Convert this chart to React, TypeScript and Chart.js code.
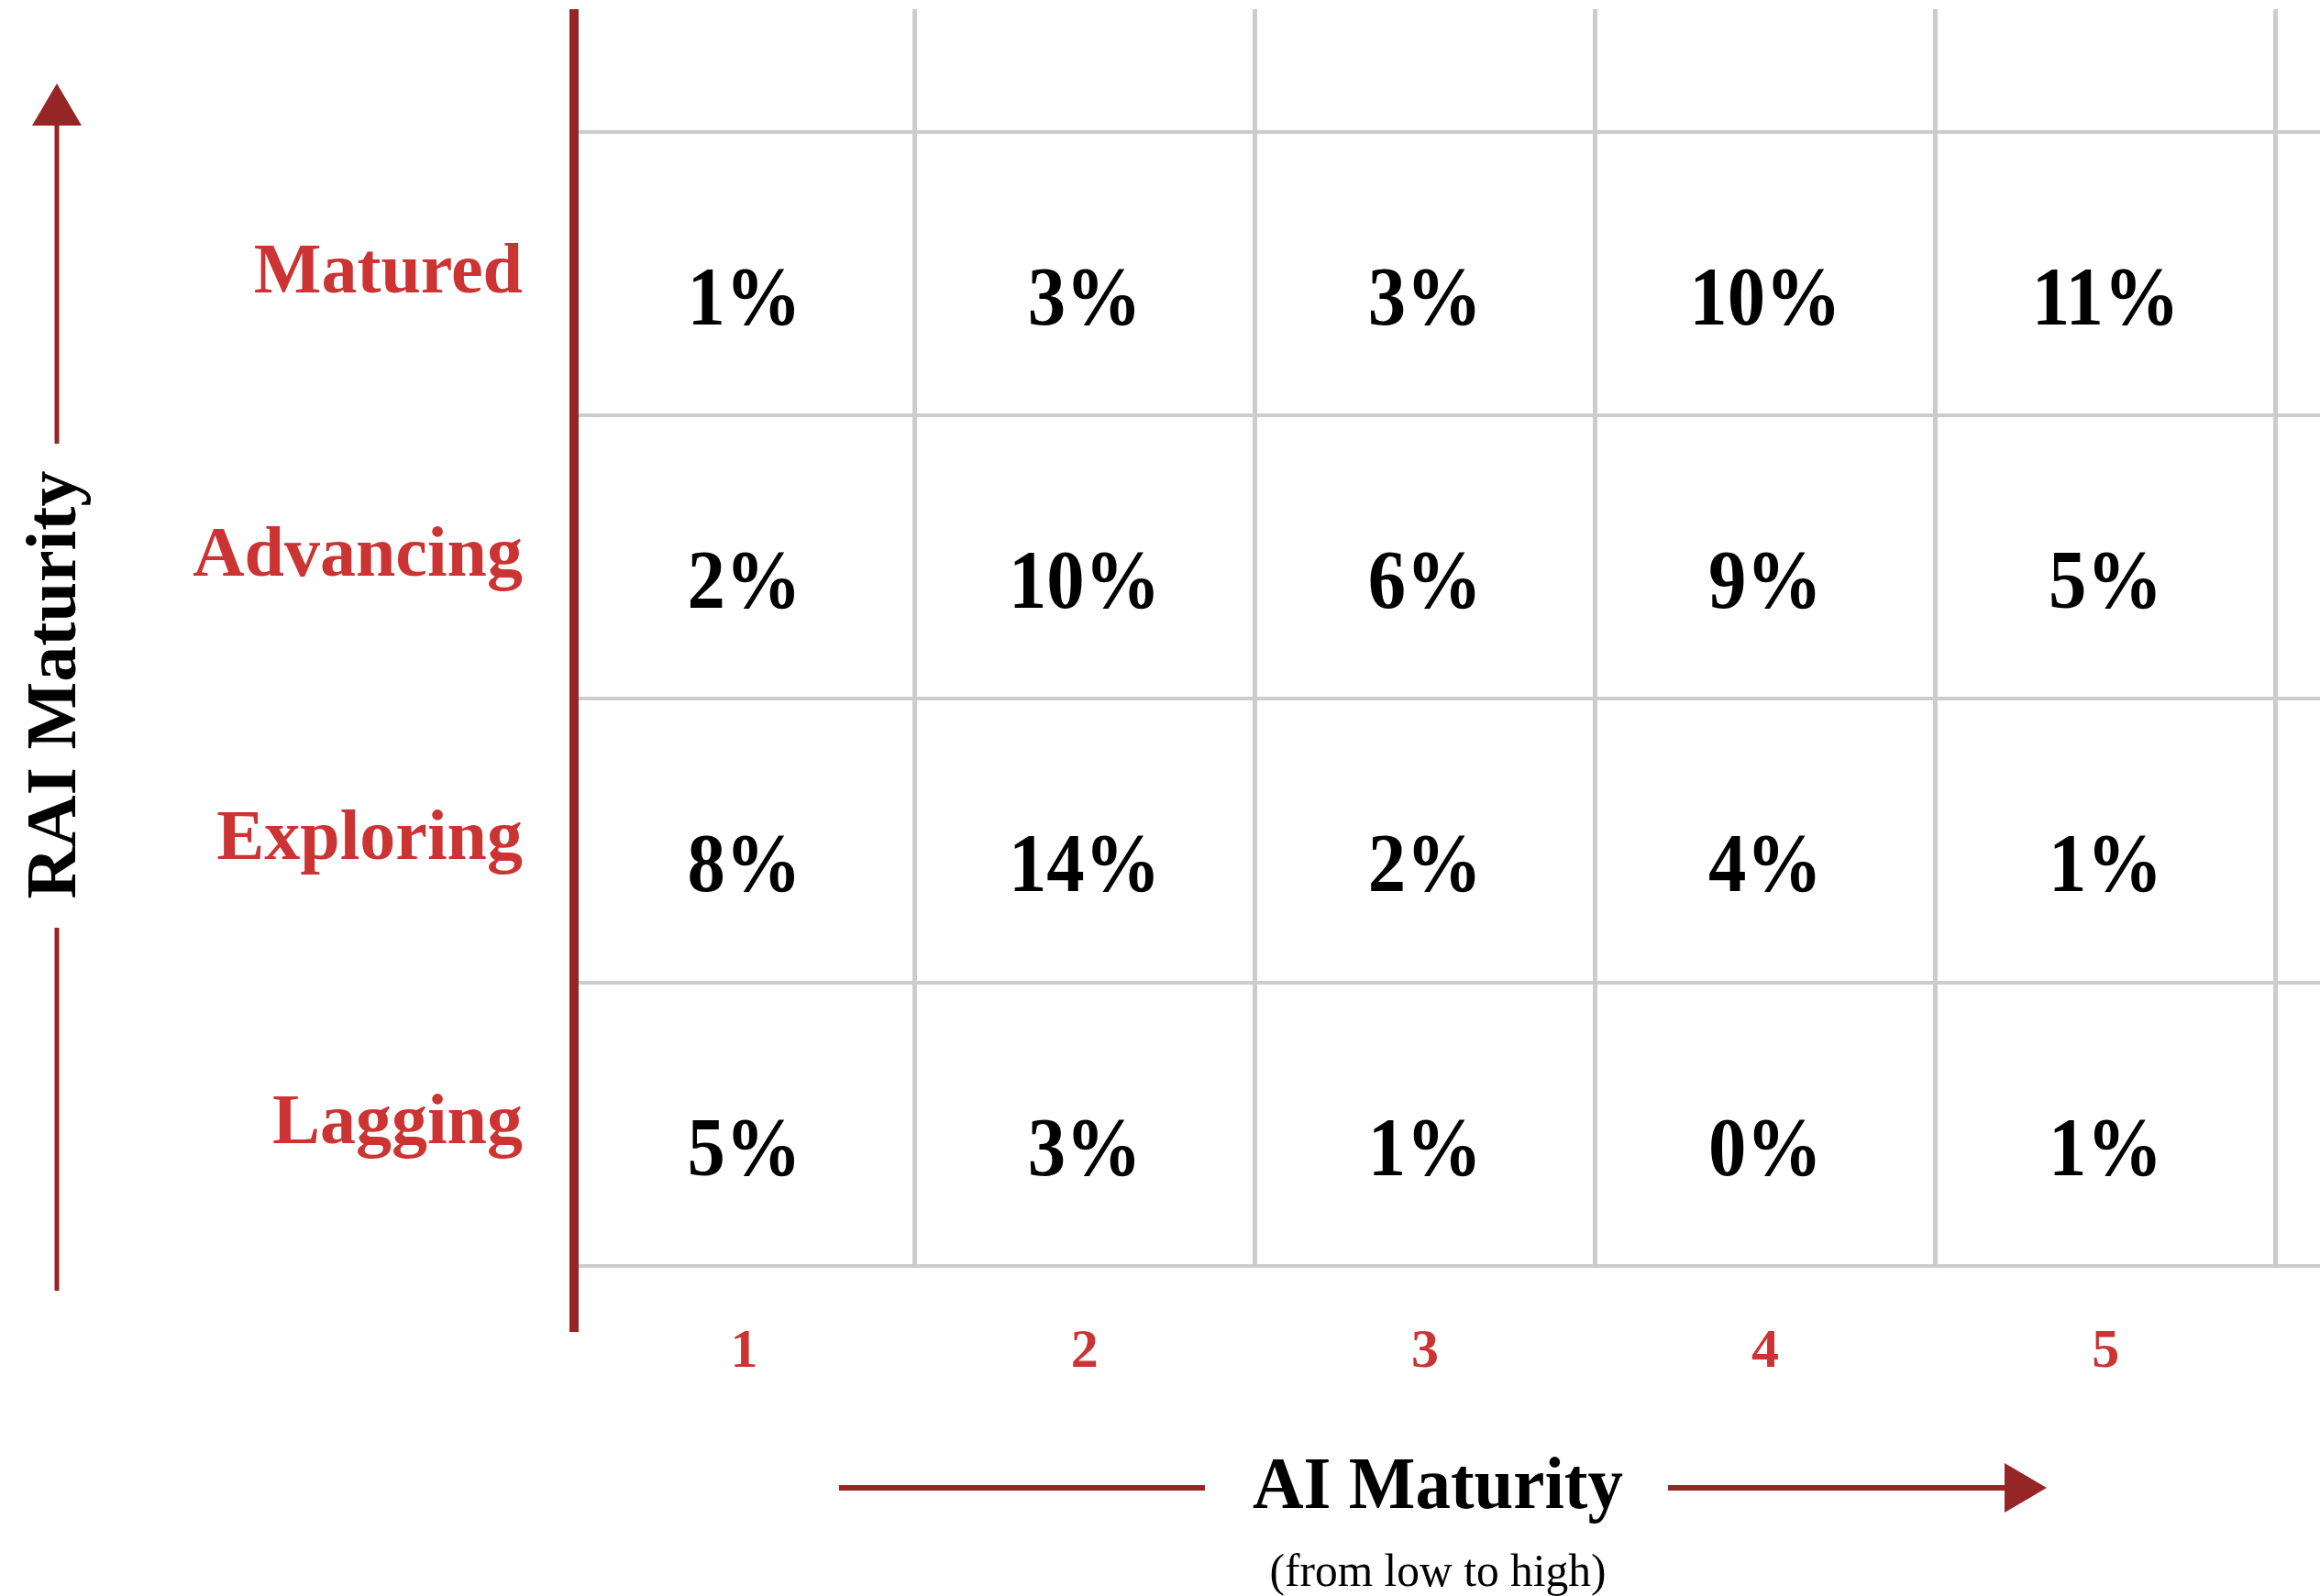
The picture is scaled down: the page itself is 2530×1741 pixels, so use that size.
import React, { useEffect, useRef } from 'react';
import { Chart, registerables } from 'chart.js';

Chart.register(...registerables);

// ---------- data ----------
const aiLevels = ['1', '2', '3', '4', '5'];
const raiLevels = ['Lagging', 'Exploring', 'Advancing', 'Matured']; // bottom to top
const maturedShare = [1, 3, 3, 10, 11];
const advancingShare = [2, 10, 6, 9, 5];
const exploringShare = [8, 14, 2, 4, 1];
const laggingShare = [5, 3, 1, 0, 1];
const xAxisTitle = 'AI Maturity';
const xAxisSubtitle = '(from low to high)';
const yAxisTitle = 'RAI Maturity';

const rowsBottomUp = [laggingShare, exploringShare, advancingShare, maturedShare];
const cells = rowsBottomUp.flatMap((row, r) =>
  row.map((v, c) => ({ x: c + 1, y: r + 1, v }))
);

// ---------- styles ----------
const RED = '#cc3333';
const DARK_RED = '#962626';
const GRID = '#cccccc';
const FAMILY = "'Liberation Serif', 'Times New Roman', serif";

function drawScaledText(
  ctx: CanvasRenderingContext2D,
  text: string,
  x: number,
  y: number,
  font: string,
  scaleX: number,
  align: CanvasTextAlign = 'center',
  baseline: CanvasTextBaseline = 'middle'
) {
  ctx.save();
  ctx.font = font;
  ctx.translate(x, y);
  ctx.scale(scaleX, 1);
  ctx.textAlign = align;
  ctx.textBaseline = baseline;
  ctx.fillText(text, 0, 0);
  ctx.restore();
}

const valueLabelsPlugin = {
  id: 'valueLabels',
  afterDatasetsDraw(chart: any) {
    const { ctx } = chart;
    const meta = chart.getDatasetMeta(0);
    const data = chart.data.datasets[0].data as any[];
    ctx.save();
    ctx.fillStyle = '#000000';
    meta.data.forEach((el: any, i: number) => {
      const d = data[i];
      drawScaledText(ctx, `${d.v}%`, el.x, el.y + 32, `bold 90px ${FAMILY}`, 0.92, 'center', 'middle');
    });
    ctx.restore();
  },
};

const decorationsPlugin = {
  id: 'decorations',
  afterDraw(chart: any) {
    const { ctx, chartArea } = chart;
    ctx.save();
    // heavy red y-axis line, extending below the grid
    ctx.fillStyle = DARK_RED;
    ctx.fillRect(chartArea.left - 5, chartArea.top, 10, chartArea.bottom - chartArea.top + 72);

    // vertical arrow (RAI Maturity)
    const ax = 62;
    ctx.strokeStyle = DARK_RED;
    ctx.lineWidth = 5;
    ctx.beginPath();
    ctx.moveTo(ax, 130);
    ctx.lineTo(ax, 484);
    ctx.moveTo(ax, 1012);
    ctx.lineTo(ax, 1408);
    ctx.stroke();
    ctx.beginPath();
    ctx.moveTo(ax, 91);
    ctx.lineTo(ax - 27, 137);
    ctx.lineTo(ax + 27, 137);
    ctx.closePath();
    ctx.fill();

    ctx.save();
    ctx.translate(ax, 747);
    ctx.rotate(-Math.PI / 2);
    ctx.fillStyle = '#000000';
    drawScaledText(ctx, yAxisTitle, 0, 0, `bold 79px ${FAMILY}`, 0.99, 'center', 'middle');
    ctx.restore();

    // horizontal arrow (AI Maturity)
    const ay = 1623;
    ctx.lineWidth = 6;
    ctx.beginPath();
    ctx.moveTo(915, ay);
    ctx.lineTo(1314, ay);
    ctx.moveTo(1819, ay);
    ctx.lineTo(2190, ay);
    ctx.stroke();
    ctx.beginPath();
    ctx.moveTo(2232, ay);
    ctx.lineTo(2186, ay - 27);
    ctx.lineTo(2186, ay + 27);
    ctx.closePath();
    ctx.fill();

    ctx.fillStyle = '#000000';
    drawScaledText(ctx, xAxisTitle, 1568, ay + 1, `bold 81px ${FAMILY}`, 0.95, 'center', 'middle');
    drawScaledText(ctx, xAxisSubtitle, 1568, 1730, `50px ${FAMILY}`, 0.99, 'center', 'alphabetic');
    ctx.restore();
  },
};

export default function App() {
  const canvasRef = useRef<HTMLCanvasElement | null>(null);

  useEffect(() => {
    if (!canvasRef.current) return;
    const chart = new Chart(canvasRef.current, {
      type: 'scatter',
      data: {
        datasets: [
          {
            label: 'Share of organisations',
            data: cells as any,
            pointRadius: 0,
            pointHoverRadius: 0,
            showLine: false,
          },
        ],
      },
      options: {
        animation: false,
        responsive: false,
        devicePixelRatio: 1,
        events: [],
        layout: { padding: { top: 10, left: 0, right: 0, bottom: 0 } },
        plugins: {
          legend: { display: false },
          tooltip: { enabled: false },
        },
        scales: {
          x: {
            type: 'linear',
            min: 0.5,
            max: 5.63,
            afterBuildTicks: (scale: any) => {
              scale.ticks = aiLevels.map((_, i) => ({ value: i + 1 }));
            },
            afterFit: (scale: any) => {
              scale.height = 360;
              scale.paddingLeft = 0;
              scale.paddingRight = 0;
            },
            grid: {
              offset: true,
              color: GRID,
              lineWidth: 5,
              drawTicks: false,
            },
            border: { display: true, color: GRID, width: 4 },
            ticks: {
              autoSkip: false,
              maxRotation: 0,
              minRotation: 0,
              padding: 58,
              color: RED,
              font: { family: FAMILY, size: 60, weight: 'bold' },
              callback: (v: any) => aiLevels[Number(v) - 1] ?? '',
            },
          },
          y: {
            type: 'linear',
            min: 0.5,
            max: 4.933,
            afterBuildTicks: (scale: any) => {
              scale.ticks = raiLevels.map((_, i) => ({ value: i + 1 }));
            },
            afterFit: (scale: any) => {
              scale.width = 626;
              scale.paddingTop = 0;
              scale.paddingBottom = 0;
            },
            grid: {
              offset: true,
              color: GRID,
              lineWidth: 4,
              drawTicks: false,
            },
            border: { display: false },
            ticks: {
              autoSkip: false,
              padding: 56,
              color: RED,
              font: { family: FAMILY, size: 78, weight: 'bold' },
              callback: (v: any) => raiLevels[Number(v) - 1] ?? '',
            },
          },
        },
      } as any,
      plugins: [valueLabelsPlugin, decorationsPlugin],
    });
    return () => chart.destroy();
  }, []);

  return (
    <div style={{ position: 'absolute', left: 0, top: 0, width: 2530, height: 1741, background: '#ffffff' }}>
      <canvas ref={canvasRef} width={2530} height={1741} style={{ display: 'block' }} />
    </div>
  );
}
